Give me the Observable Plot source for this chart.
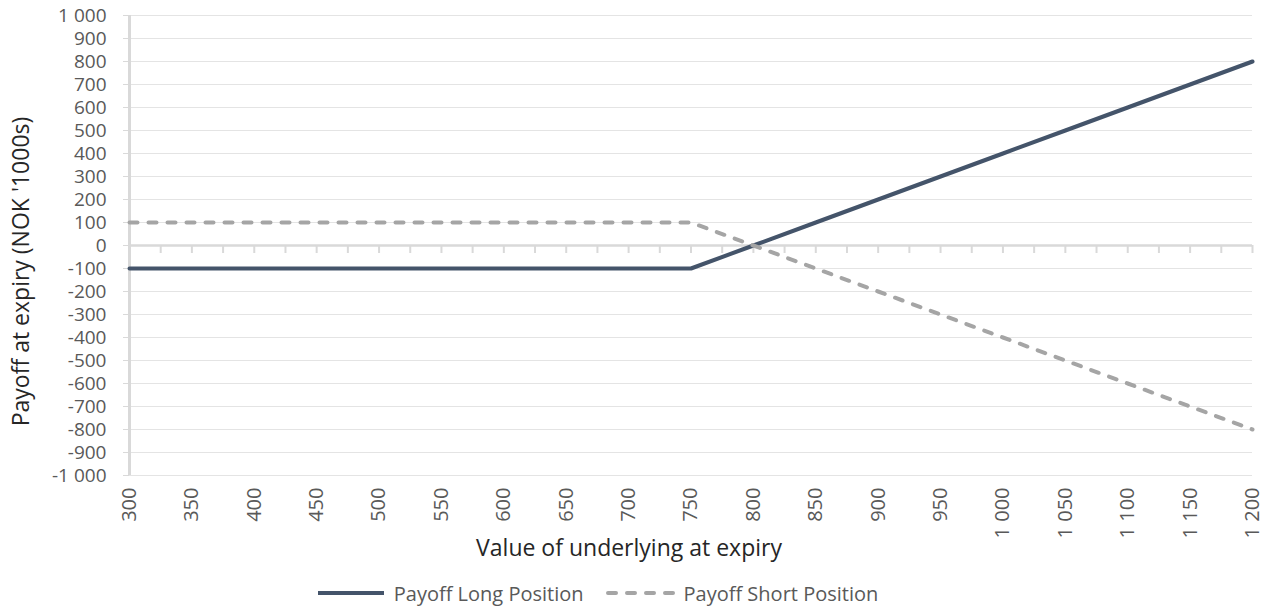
<!DOCTYPE html>
<html>
<head>
<meta charset="utf-8">
<script src="https://cdn.jsdelivr.net/npm/d3@7"></script>
<script src="https://cdn.jsdelivr.net/npm/@observablehq/plot@0.6"></script>
<style>
  html, body { margin: 0; padding: 0; background: #fff; }
  #chart svg { display: block; }
  .legend { display: flex; justify-content: center; align-items: center; height: 26px;
    font-family: "Open Sans", sans-serif; font-size: 20px; color: #595959; position: relative; left: -36px; }
  .legend .item { display: flex; align-items: center; }
  .legend .sw { display: inline-block; margin-right: 8px; }
  .legend .gap { width: 22px; }
</style>
</head>
<body>
<div id="chart"></div>
<div class="legend" id="legend"></div>
<script>
const xValues = [300, 350, 400, 450, 500, 550, 600, 650, 700, 750, 800, 850, 900, 950, 1000, 1050, 1100, 1150, 1200];
const longPayoff = [-100, -100, -100, -100, -100, -100, -100, -100, -100, -100, 0, 100, 200, 300, 400, 500, 600, 700, 800];
const shortPayoff = [100, 100, 100, 100, 100, 100, 100, 100, 100, 100, 0, -100, -200, -300, -400, -500, -600, -700, -800];
const yTicks = [-1000, -900, -800, -700, -600, -500, -400, -300, -200, -100, 0, 100, 200, 300, 400, 500, 600, 700, 800, 900, 1000];
const xTicks = xValues;
const seriesNames = ["Payoff Long Position", "Payoff Short Position"];
const seriesColors = ["#44546a", "#a5a5a5"];
const xTitle = "Value of underlying at expiry";
const yTitle = "Payoff at expiry (NOK '1000s)";

const data = xValues.map((x, i) => ({x, long: longPayoff[i], short: shortPayoff[i]}));
const minorTicks = d3.range(300, 1201, 25);
const loc = d3.formatLocale({decimal: ",", thousands: " ", grouping: [3], currency: ["", ""], minus: "-"});
const fmt = loc.format(",d");

const chart = Plot.plot({
  width: 1266,
  height: 580,
  marginLeft: 129,
  marginRight: 14,
  marginTop: 15,
  marginBottom: 105,
  x: {domain: [300, 1200], ticks: xTicks, tickFormat: fmt},
  y: {domain: [-1000, 1000], ticks: yTicks, tickFormat: fmt},
  style: {fontFamily: "Open Sans, sans-serif", fontSize: "20px", color: "#595959", background: "white"},
  marks: [
    Plot.ruleY(yTicks.filter(d => d !== 0), {stroke: "#e4e4e4", strokeWidth: 1}),
    Plot.axisY({ticks: yTicks, tickSize: 6, tickPadding: 17, stroke: "#d9d9d9", tickFormat: fmt, label: null, fontSize: 19}),
    Plot.axisX({ticks: xTicks, tickSize: 0, tickPadding: 12, tickRotate: -90, tickFormat: fmt, label: null}),
    Plot.ruleX([300], {stroke: "#d9d9d9", strokeWidth: 3}),
    Plot.ruleY([0], {stroke: "#d9d9d9", strokeWidth: 2.5}),
    Plot.ruleX(minorTicks, {x: d => d, y1: 0, y2: 0, insetBottom: -8, stroke: "#d9d9d9", strokeWidth: 2}),
    Plot.line(data, {x: "x", y: "long", stroke: seriesColors[0], strokeWidth: 4}),
    Plot.line(data, {x: "x", y: "short", stroke: seriesColors[1], strokeWidth: 4, strokeDasharray: "8,11", strokeLinecap: "round"}),
    Plot.text([xTitle], {frameAnchor: "bottom", dy: 80, dx: -62, fontSize: 23, fill: "#262626"}),
    Plot.text([yTitle], {frameAnchor: "left", textAnchor: "middle", rotate: -90, dx: -108, dy: 26, fontSize: 23, fill: "#262626"})
  ]
});
document.getElementById("chart").append(chart);

// legend
const legend = document.getElementById("legend");
seriesNames.forEach((name, i) => {
  if (i > 0) { const g = document.createElement("span"); g.className = "gap"; legend.append(g); }
  const item = document.createElement("span");
  item.className = "item";
  const svg = `<svg class="sw" width="70" height="8"><line x1="2" y1="4" x2="68" y2="4" stroke="${seriesColors[i]}" stroke-width="4" ${i === 1 ? 'stroke-dasharray="8,11" stroke-linecap="round"' : ''}/></svg>`;
  item.innerHTML = svg + `<span>${name}</span>`;
  legend.append(item);
});
</script>
</body>
</html>
